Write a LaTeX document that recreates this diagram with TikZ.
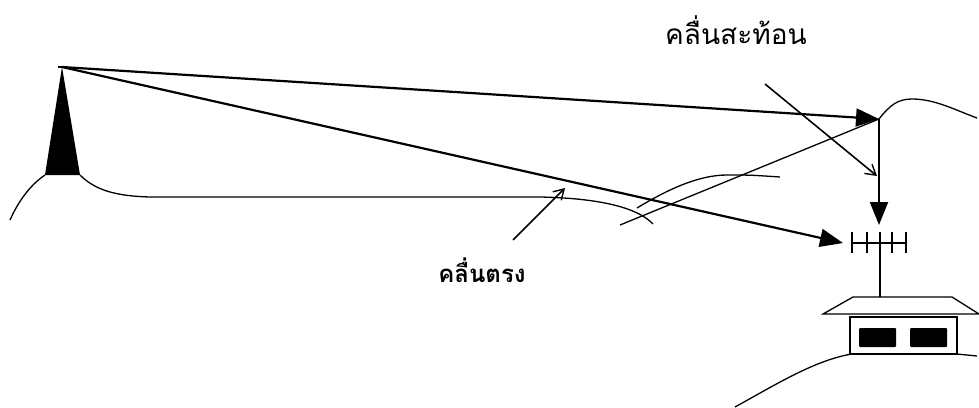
\documentclass[tikz,border=0pt]{standalone}
\usepackage{fontspec}
\newfontfamily\thaifont[Script=Thai]{Loma}
\usetikzlibrary{arrows.meta}
\begin{document}
\begin{tikzpicture}[x=1pt,y=-1pt,
  ground/.style={line width=1.3pt},
  ray/.style={line width=2.2pt,-{Triangle[length=23pt,width=18pt]}},
  pointer/.style={line width=1.6pt,-{Straight Barb[length=10pt,width=12pt,line width=1.4pt]}},
  wavelabel/.style={font=\thaifont\fontsize{28}{32}\selectfont,inner sep=0pt}]
\useasboundingbox (0,0) rectangle (979,407);

% transmitter tower
\coordinate (apex) at (62,67);
\coordinate (tl) at (45,175);
\coordinate (tr) at (80,175);
\fill (apex) -- (tr) -- (tl) -- cycle;
\draw[line width=1.5pt] (58,67) -- (66,67);

% ground profile around the tower
\draw[ground] (tl) .. controls (30,185) and (18,202) .. (10,220);
\draw[ground] (tr) .. controls (95,190) and (115,196) .. (150,197)
  -- (540,197) .. controls (590,198) and (635,205) .. (653,224);

% ridge between tower and receiver
\coordinate (bounce) at (879,119);
\draw[ground] (637,208) .. controls (670,188) and (700,175) .. (727,175)
  .. controls (750,175) .. (780,177);
\draw[ground] (620,225) -- (bounce);
\draw[ground] (bounce) .. controls (890,105) and (898,99) .. (912,99)
  .. controls (935,99) and (955,110) .. (977,118);

% receiving antenna
\coordinate (antL) at (852,243);
\coordinate (antR) at (907,243);
\coordinate (mastFoot) at (880,297);
\draw[line width=1.3pt] (antL) -- (antR);
\foreach \x in {852,867,892,906} \draw[line width=1.3pt] (\x,232) -- (\x,253);
\draw[line width=1.3pt] (880,232) -- (mastFoot);

% house
\draw[line width=1.3pt] (823,314) -- (853,297) -- (952,297) -- (979,314) -- cycle;
\draw[line width=1.3pt] (850,317) rectangle (957,354);
\fill[rounded corners=1pt] (859,328) rectangle (896,347);
\fill[rounded corners=1pt] (910,328) rectangle (947,347);

% ground under the house
\draw[ground] (735,407) .. controls (775,385) and (815,360) .. (852,354)
  -- (957,354) -- (977,356);

% waves
\draw[ray] (apex) -- (bounce);
\draw[ray] (apex) -- (843,243) coordinate (directEnd);
\draw[ray] (bounce) -- (879,225) coordinate (downEnd);

% labels
\node[wavelabel] (refl) at (736,30) {คลื่นสะท้อน};
\coordinate (reflFrom) at (765,84);
\coordinate (reflTo) at (877,176);
\draw[pointer] (reflFrom) -- (reflTo);

\node[wavelabel,font=\thaifont\bfseries\fontsize{24}{28}\selectfont] (direct) at (482,270) {คลื่นตรง};
\coordinate (dirFrom) at (513,240);
\coordinate (dirTo) at (565,188);
\draw[pointer] (dirFrom) -- (dirTo);
\end{tikzpicture}
\end{document}
